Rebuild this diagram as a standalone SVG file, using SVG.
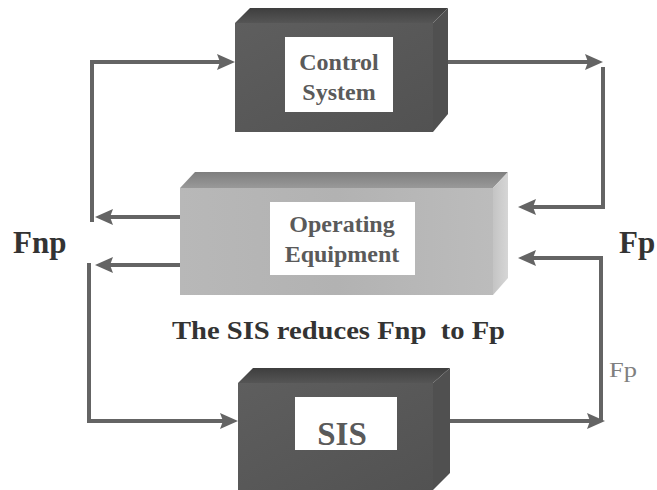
<svg xmlns="http://www.w3.org/2000/svg" width="657" height="490" viewBox="0 0 657 490" font-family="Liberation Serif, Tinos, Times New Roman, serif">
  <defs>
    <marker id="arrow" markerUnits="userSpaceOnUse" markerWidth="18" markerHeight="16" viewBox="0 0 18 16" refX="8" refY="8" orient="auto">
      <path d="M0,0 L18,8 L0,16 L3,8 z" fill="#646464"/>
    </marker>
    <linearGradient id="darkFront" x1="0" y1="0" x2="1" y2="1">
      <stop offset="0" stop-color="#5e5e5e"/>
      <stop offset="1" stop-color="#525252"/>
    </linearGradient>
    <linearGradient id="darkTop" x1="0" y1="0" x2="0" y2="1">
      <stop offset="0" stop-color="#3e3e3e"/>
      <stop offset="1" stop-color="#555555"/>
    </linearGradient>
    <linearGradient id="lightFront" x1="0" y1="0" x2="1" y2="0">
      <stop offset="0" stop-color="#b8b8b8"/>
      <stop offset="0.5" stop-color="#b2b2b2"/>
      <stop offset="1" stop-color="#bcbcbc"/>
    </linearGradient>
    <linearGradient id="lightTop" x1="0" y1="0" x2="0" y2="1">
      <stop offset="0" stop-color="#7e7e7e"/>
      <stop offset="1" stop-color="#999999"/>
    </linearGradient>
    <linearGradient id="lightSide" x1="0" y1="0" x2="1" y2="0">
      <stop offset="0" stop-color="#c4c4c4"/>
      <stop offset="1" stop-color="#d6d6d6"/>
    </linearGradient>
  </defs>
  <style>
    .wire { fill: none; stroke: #646464; stroke-width: 4; }
    text { font-family: "Liberation Serif", Tinos, "Times New Roman", serif; }
    .label { fill: #5a5a5a; font-weight: bold; text-anchor: middle; }
    .big { fill: #333333; font-weight: bold; }
    .panel { fill: #ffffff; }
  </style>

  <rect width="657" height="490" fill="#ffffff"/>

  <!-- connectors -->
  <g id="connectors">
    <path class="wire" d="M92,222 V62 H225" marker-end="url(#arrow)"/>
    <path class="wire" d="M180,217 H105" marker-end="url(#arrow)"/>
    <path class="wire" d="M180,265 H105" marker-end="url(#arrow)"/>
    <path class="wire" d="M89,263 V421 H228" marker-end="url(#arrow)"/>
    <path class="wire" d="M448,62 H593" marker-end="url(#arrow)"/>
    <path class="wire" d="M603,67 V207 H528" marker-end="url(#arrow)"/>
    <path class="wire" d="M601,420 V258 H528" marker-end="url(#arrow)"/>
    <path class="wire" d="M433,421 H595" marker-end="url(#arrow)"/>
  </g>

  <!-- control system block -->
  <g id="control-system">
    <polygon points="235,23 250,8 448,8 433,23" fill="url(#darkTop)"/>
    <polygon points="433,23 448,8 448,114 433,132" fill="#505050"/>
    <rect x="235" y="23" width="198" height="109" fill="url(#darkFront)"/>
    <rect class="panel" x="285" y="37" width="108" height="75"/>
    <text class="label" x="339" y="70" font-size="24">Control</text>
    <text class="label" x="339" y="100" font-size="24">System</text>
  </g>

  <!-- operating equipment block -->
  <g id="operating-equipment">
    <polygon points="180,188 195,172 508,172 493,188" fill="url(#lightTop)"/>
    <polygon points="493,188 508,172 508,278 493,295" fill="url(#lightSide)"/>
    <rect x="180" y="188" width="313" height="107" fill="url(#lightFront)"/>
    <rect class="panel" x="270" y="202" width="145" height="73"/>
    <text class="label" x="342" y="232" font-size="24">Operating</text>
    <text class="label" x="342" y="262" font-size="24">Equipment</text>
  </g>

  <!-- safety instrumented system block -->
  <g id="sis">
    <polygon points="238,383 253,368 450,368 433,383" fill="url(#darkTop)"/>
    <polygon points="433,383 450,368 450,473 433,490" fill="#505050"/>
    <rect x="238" y="383" width="195" height="107" fill="url(#darkFront)"/>
    <rect class="panel" x="295" y="397" width="102" height="53"/>
    <text class="label" x="342" y="445" font-size="33">SIS</text>
  </g>

  <!-- flow labels -->
  <g id="labels">
    <text class="big" x="13" y="253" font-size="31">Fnp</text>
    <text class="big" x="619" y="253" font-size="31">Fp</text>
    <text class="big" x="172" y="339" font-size="25" textLength="333" lengthAdjust="spacingAndGlyphs" xml:space="preserve">The SIS reduces Fnp  to Fp</text>
    <text x="609" y="377" font-size="22" fill="#808080" textLength="28" lengthAdjust="spacingAndGlyphs">Fp</text>
  </g>
</svg>
